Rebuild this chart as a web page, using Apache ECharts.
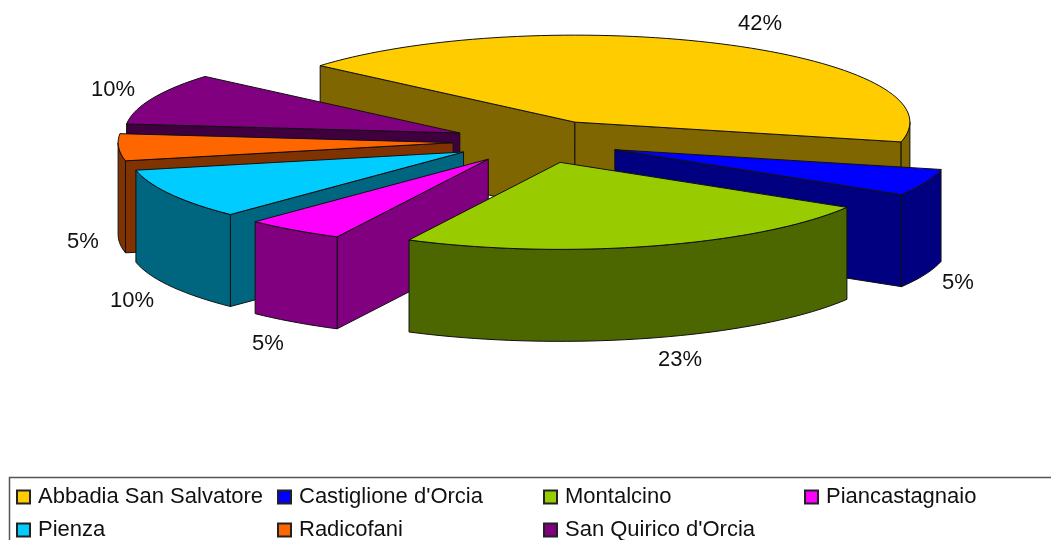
<!DOCTYPE html>
<html>
<head>
<meta charset="utf-8">
<style>
html, body { margin: 0; padding: 0; background: #fff; }
#chart { width: 1051px; height: 540px; }
</style>
<script src="https://cdn.jsdelivr.net/npm/echarts@6/dist/echarts.min.js"></script>
</head>
<body>
<div id="chart"></div>
<script>
// data
var names = ['Abbadia San Salvatore', "Castiglione d'Orcia", 'Montalcino', 'Piancastagnaio', 'Pienza', 'Radicofani', "San Quirico d'Orcia"];
var values = [42.4, 5, 23.8, 4.8, 9.4, 5, 9.6];
var percentLabels = ['42%', '5%', '23%', '5%', '10%', '5%', '10%'];
var topColors = ['#FFCC00', '#0000FF', '#99CC00', '#FF00FF', '#00CCFF', '#FF6600', '#800080'];
var wallColors = ['#7F6600', '#000080', '#4C6600', '#800080', '#006680', '#803300', '#400040'];

// layout of the fake 3d pie
var drawOrder = [0, 6, 5, 4, 3, 1, 2]; // back to front
var firstAngle = -49.5;
var cx = 537, cy = 141.5, rx = 335, ry = 87, depth = 92;
var explodeX = 84, explodeY = 21.7;
var labelPos = [[760, 24], [958, 283], [680, 360], [268, 344], [132, 301], [83, 242], [113, 90]];
var legendCols = [16, 277, 543, 804];
var legendRows = [486, 519];
var fontName = '"Liberation Sans", Arial, sans-serif';

var total = 0;
for (var i = 0; i < values.length; i++) total += values[i];

var starts = [], a = firstAngle;
for (var i = 0; i < values.length; i++) {
    starts.push(a);
    a += values[i] / total * 360;
}

function rad(d) { return d * Math.PI / 180; }

function arcPoints(ox, oy, from, to, dy) {
    var pts = [];
    var n = Math.max(1, Math.ceil((to - from) / 2));
    for (var i = 0; i <= n; i++) {
        var t = rad(from + (to - from) * i / n);
        pts.push([ox + rx * Math.sin(t), oy - ry * Math.cos(t) + dy]);
    }
    return pts;
}

function face(points, fill) {
    return {
        type: 'polygon',
        shape: { points: points },
        style: { fill: fill, stroke: '#101010', lineWidth: 1, lineJoin: 'round' }
    };
}

function radialWall(ox, oy, ang, fill) {
    var t = rad(ang);
    var px = ox + rx * Math.sin(t), py = oy - ry * Math.cos(t);
    return face([[ox, oy], [px, py], [px, py + depth], [ox, oy + depth]], fill);
}

function renderSlice(params, api) {
    var idx = params.seriesIndex;
    var k = drawOrder[idx];
    var sweep = api.value(0) / total * 360;
    var from = starts[k], to = from + sweep, mid = rad(from + sweep / 2);
    var ox = cx + explodeX * Math.sin(mid);
    var oy = cy - explodeY * Math.cos(mid);
    var children = [];

    // side walls that face the viewer
    if (Math.sin(rad(from)) < 0) children.push(radialWall(ox, oy, from, wallColors[k]));
    if (Math.sin(rad(to)) > 0) children.push(radialWall(ox, oy, to, wallColors[k]));

    // outer rim, only the front half of the ellipse shows
    var rimFrom = Math.max(from, 90), rimTo = Math.min(to, 270);
    if (rimTo > rimFrom) {
        var upper = arcPoints(ox, oy, rimFrom, rimTo, 0);
        var lower = arcPoints(ox, oy, rimFrom, rimTo, depth).reverse();
        children.push(face(upper.concat(lower), wallColors[k]));
    }

    // top
    children.push(face([[ox, oy]].concat(arcPoints(ox, oy, from, to, 0)), topColors[k]));

    children.push({
        type: 'text',
        x: labelPos[k][0],
        y: labelPos[k][1],
        style: {
            text: percentLabels[k],
            fill: '#111',
            font: '22px ' + fontName,
            textAlign: 'center',
            textVerticalAlign: 'middle'
        }
    });
    return { type: 'group', children: children };
}

var series = [];
for (var i = 0; i < drawOrder.length; i++) {
    var k = drawOrder[i];
    series.push({
        type: 'custom',
        name: names[k],
        coordinateSystem: 'none',
        silent: true,
        animation: false,
        itemStyle: { color: topColors[k], borderColor: '#222', borderWidth: 1 },
        data: [[values[k]]],
        renderItem: renderSlice
    });
}

// one legend block per entry so the columns line up
var legends = [];
for (var i = 0; i < names.length; i++) {
    legends.push({
        data: [names[i]],
        left: legendCols[i % 4],
        top: legendRows[Math.floor(i / 4)],
        padding: 0,
        itemWidth: 13,
        itemHeight: 13,
        icon: 'rect',
        selectedMode: false,
        textStyle: { fontFamily: fontName, fontSize: 22, color: '#111', padding: [0, 0, 0, 3] }
    });
}

var myChart = echarts.init(document.getElementById('chart'));
myChart.setOption({
    backgroundColor: '#fff',
    animation: false,
    legend: legends,
    graphic: [{
        type: 'rect',
        silent: true,
        shape: { x: 9.5, y: 477.5, width: 1060, height: 100 },
        style: { fill: '#fff', stroke: '#555', lineWidth: 1.5 },
        z: -1
    }],
    series: series
});
</script>
</body>
</html>
